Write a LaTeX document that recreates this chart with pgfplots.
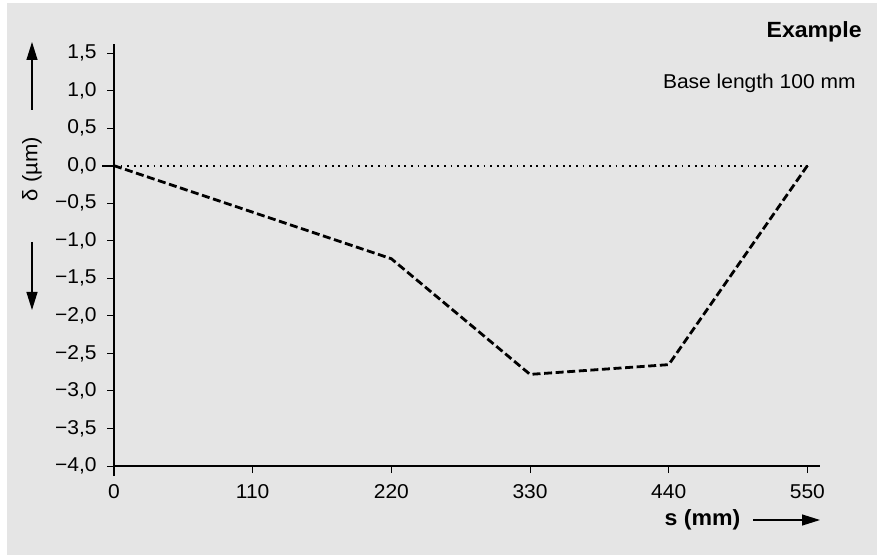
\documentclass[border=0pt]{standalone}
\usepackage{pgfplots}
\pgfplotsset{compat=1.18}
\usepackage{fontspec}
\setmainfont[FakeStretch=1.05]{Liberation Sans}
\usetikzlibrary{arrows.meta}
\definecolor{bg}{RGB}{229,229,229}
\begin{document}
\begin{tikzpicture}[font=\fontsize{10}{12}\selectfont]
\path[use as bounding box] (-57pt,-45pt) rectangle (384pt,233pt);
\fill[bg] (-53.5pt,-44.5pt) rectangle (381.5pt,231.5pt);
\begin{axis}[
  at={(0pt,0pt)}, anchor=south west,
  scale only axis, width=353pt, height=211pt,
  xmin=0, xmax=560, ymin=-4, ymax=1.62,
  axis x line*=bottom, axis y line*=left,
  axis line style={line width=0.9pt},
  tick align=outside, major tick length=3.5pt,
  tick style={black, line width=0.5pt},
  xtick={0,110,220,330,440,550},
  ytick={-4,-3.5,-3,-2.5,-2,-1.5,-1,-0.5,0,0.5,1,1.5},
  yticklabels={{−4,0},{−3,5},{−3,0},{−2,5},{−2,0},{−1,5},{−1,0},{−0,5},{0,0},{0,5},{1,0},{1,5}},
  extra y ticks={0}, extra y tick labels={},
  extra y tick style={major tick length=6pt, tick style={line width=1pt}},
  extra x ticks={0}, extra x tick labels={},
  extra x tick style={major tick length=5pt, tick style={line width=1pt}},
  /pgf/number format/assume math mode=true,
  ticklabel style={font=\fontsize{10}{12}\selectfont},
  yticklabel style={xshift=-1.7pt},
  xticklabel style={yshift=-2pt},
  clip=false,
]
\addplot[black, line width=1pt, dash pattern=on 0.9pt off 2.4pt] coordinates {(0,0) (550,0)};
\addplot[black, line width=1.4pt, dash pattern=on 4pt off 1.8pt] coordinates {(0,0) (220,-1.24) (330,-2.78) (440,-2.65) (550,0)};
\end{axis}
\node[anchor=east, inner sep=0pt, font=\fontsize{11}{13}\selectfont\bfseries] at (374pt,217pt) {Example};
\node[anchor=east, inner sep=0pt] at (371pt,191.5pt) {Base length 100 mm};
\node[rotate=90, inner sep=0pt, font=\fontsize{10.5}{12}\selectfont] at (-41pt,148.5pt) {δ (µm)};
\draw[line width=0.6pt, -{Triangle[length=9pt,width=5.5pt]}] (-41pt,178pt) -- (-41pt,212pt);
\draw[line width=0.6pt, -{Triangle[length=9pt,width=5.5pt]}] (-41pt,112pt) -- (-41pt,78pt);
\node[inner sep=0pt, font=\fontsize{11}{13}\selectfont\bfseries] at (294.25pt,-27pt) {s (mm)};
\draw[line width=0.6pt, -{Triangle[length=9pt,width=5.5pt]}] (319.5pt,-27pt) -- (353pt,-27pt);
\end{tikzpicture}
\end{document}
